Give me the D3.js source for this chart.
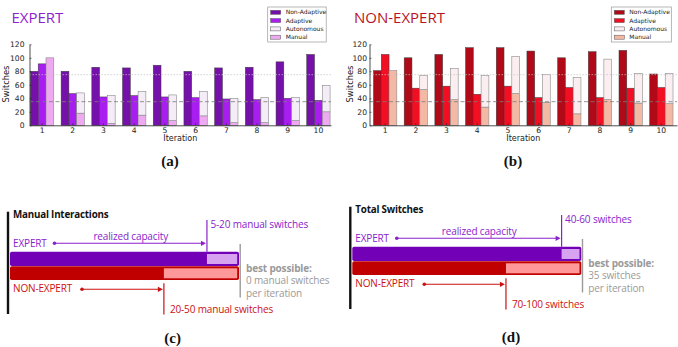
<!DOCTYPE html>
<html>
<head>
<meta charset="utf-8">
<script src="https://cdn.jsdelivr.net/npm/d3@7/dist/d3.min.js"></script>
<style>
  body { margin: 0; background: #fff; }
  svg { display: block; }
</style>
</head>
<body>
<svg id="fig" width="678" height="347"></svg>
<script>
// ---- data ----
const iterations = ['1', '2', '3', '4', '5', '6', '7', '8', '9', '10'];
const seriesNames = ['Non-Adaptive', 'Adaptive', 'Autonomous', 'Manual'];
const yTicks = [0, 20, 40, 60, 80, 100, 120];
const referenceLines = [75, 35];

const expertNonAdaptive = [80, 80, 86, 85, 89, 80, 85, 86, 94, 105];
const expertAdaptive    = [91, 47, 42, 44, 42, 41, 39, 38, 40, 37];
const expertManual      = [100, 18, 3, 15, 7, 14, 4, 4, 7, 20];
const expertAutonomous  = [0, 30, 41, 35, 38, 36, 36, 37, 34, 39];

const nonExpertNonAdaptive = [81, 100, 105, 115, 115, 110, 100, 109, 111, 76];
const nonExpertAdaptive    = [105, 55, 58, 46, 58, 41, 56, 41, 55, 56];
const nonExpertManual      = [81, 53, 38, 27, 47, 34, 17, 38, 33, 32];
const nonExpertAutonomous  = [0, 21, 46, 47, 55, 41, 54, 60, 44, 45];

// bottom diagrams: share of the bar that is realized capacity
const diagramTitles = ['Manual Interactions', 'Total Switches'];
const expertRealized = [0.86, 0.914];
const nonExpertRealized = [0.672, 0.671];
const expertRangeLabels = ['5-20 manual switches', '40-60 switches'];
const nonExpertRangeLabels = ['20-50 manual switches', '70-100 switches'];
const bestLabels = [
  ['best possible:', '0 manual switches', 'per iteration'],
  ['best possible:', '35 switches', 'per iteration'],
];
const panelLetters = ['(a)', '(b)', '(c)', '(d)'];

const svg = d3.select('#fig');
svg.append('rect').attr('width', 678).attr('height', 347).attr('fill', '#fff');

const tickFont = 'DejaVu Sans, sans-serif';
const titleFont = '"Open Sans", sans-serif';

function barPanel(o) {
  const g = svg.append('g');
  const x = d3.scaleBand().domain(iterations).range(o.range).paddingInner(0.24).paddingOuter(o.pad);
  const sub = d3.scaleBand().domain(['na', 'ad', 'st']).range([0, x.bandwidth()]);
  const y = d3.scaleLinear().domain([0, 120]).range([125.3, 44.3]);

  const rows = iterations.map((it, i) => ({
    it, na: o.na[i], ad: o.ad[i], man: o.man[i], aut: o.aut[i],
  }));

  g.selectAll('rect.na').data(rows).join('rect').attr('class', 'na')
    .attr('x', d => x(d.it) + sub('na')).attr('y', d => y(d.na))
    .attr('width', sub.bandwidth()).attr('height', d => y(0) - y(d.na))
    .attr('fill', o.colors[0]).attr('stroke', '#3a3a3a').attr('stroke-width', 0.5);

  g.selectAll('rect.ad').data(rows).join('rect').attr('class', 'ad')
    .attr('x', d => x(d.it) + sub('ad')).attr('y', d => y(d.ad))
    .attr('width', sub.bandwidth()).attr('height', d => y(0) - y(d.ad))
    .attr('fill', o.colors[1]).attr('stroke', '#3a3a3a').attr('stroke-width', 0.5);

  const stacked = d3.stack().keys(['man', 'aut'])(rows);
  g.selectAll('g.stack').data(stacked).join('g').attr('class', 'stack')
    .attr('fill', d => d.key === 'man' ? o.colors[3] : o.colors[2])
    .selectAll('rect').data(d => d.filter(s => s[1] > s[0])).join('rect')
    .attr('x', d => x(d.data.it) + sub('st')).attr('y', d => y(d[1]))
    .attr('width', sub.bandwidth()).attr('height', d => y(d[0]) - y(d[1]))
    .attr('stroke', '#8a8a8a').attr('stroke-width', 0.6);

  // reference lines
  g.selectAll('line.ref').data(referenceLines).join('line').attr('class', 'ref')
    .attr('x1', o.range[0]).attr('x2', o.range[1])
    .attr('y1', d => y(d)).attr('y2', d => y(d))
    .attr('stroke', (d, i) => i === 0 ? '#c4c4c4' : '#7a7a7a')
    .attr('stroke-opacity', (d, i) => i === 0 ? 0.9 : 0.8)
    .attr('stroke-width', (d, i) => i === 0 ? 0.8 : 1)
    .attr('stroke-dasharray', (d, i) => i === 0 ? '1.5,1.5' : '4,2.5');

  // axes
  const ya = g.append('g').attr('transform', `translate(${o.range[0]},0)`)
    .call(d3.axisLeft(y).tickValues(yTicks).tickSizeInner(-2).tickSizeOuter(0).tickPadding(o.tickPad));
  ya.select('.domain').attr('stroke', '#222').attr('stroke-width', 0.8);
  ya.selectAll('.tick line').attr('stroke', '#222').attr('stroke-width', 0.6);
  ya.selectAll('text').attr('font-family', tickFont).attr('font-size', 7.6).attr('fill', '#222');

  const xa = g.append('g').attr('transform', `translate(0,${y(0)})`)
    .call(d3.axisBottom(x).tickSizeInner(-2).tickSizeOuter(0).tickPadding(2));
  xa.select('.domain').attr('stroke', '#222').attr('stroke-width', 0.8);
  xa.selectAll('.tick line').attr('stroke', '#222').attr('stroke-width', 0.6);
  xa.selectAll('text').attr('font-family', tickFont).attr('font-size', 7.6).attr('fill', '#222');

  g.append('text').attr('x', (o.range[0] + o.range[1]) / 2).attr('y', 141.3)
    .attr('text-anchor', 'middle').attr('font-family', tickFont).attr('font-size', 8)
    .attr('fill', '#222').text('Iteration');
  g.append('text').attr('transform', `translate(${o.ylabelX},84) rotate(-90)`)
    .attr('text-anchor', 'middle').attr('font-family', tickFont).attr('font-size', 8.3)
    .attr('fill', '#222').text('Switches');

  // title
  g.append('text').attr('x', o.titleX).attr('y', 22.5)
    .attr('font-family', titleFont).attr('font-size', 15).attr('fill', o.titleColor).text(o.title);

  // legend
  const lg = g.append('g').attr('transform', `translate(${o.legendX},7)`);
  lg.append('rect').attr('width', o.legendW).attr('height', 35)
    .attr('fill', '#fff').attr('stroke', '#999').attr('stroke-width', 0.7);
  const items = lg.selectAll('g.item').data(seriesNames).join('g').attr('class', 'item')
    .attr('transform', (d, i) => `translate(3,${5.3 + i * 8.3})`);
  items.append('rect').attr('y', -2).attr('width', 10).attr('height', 4)
    .attr('fill', (d, i) => o.colors[i]).attr('stroke', '#555').attr('stroke-width', 0.5);
  items.append('text').attr('x', 15).attr('y', 2.1)
    .attr('font-family', tickFont).attr('font-size', 6).attr('fill', '#222').text(d => d);
}

barPanel({
  range: [29.5, 331], pad: 0.03, tickPad: 5, ylabelX: 9.3,
  na: expertNonAdaptive, ad: expertAdaptive, man: expertManual, aut: expertAutonomous,
  colors: ['#7610ab', '#a81df0', '#f4ecf7', '#eeaaf0'],
  title: 'EXPERT', titleColor: '#8e22d0', titleX: 11.5,
  legendX: 267.7, legendW: 58.5,
});

barPanel({
  range: [369.5, 677], pad: 0.13, tickPad: 2.5, ylabelX: 352.5,
  na: nonExpertNonAdaptive, ad: nonExpertAdaptive, man: nonExpertManual, aut: nonExpertAutonomous,
  colors: ['#b00a18', '#f20f24', '#fbeef0', '#f4b9a4'],
  title: 'NON-EXPERT', titleColor: '#b8141f', titleX: 354,
  legendX: 611.3, legendW: 60,
});

// ---- bottom schematic panels ----
const purple = '#7200b6', lightPurple = '#d7a2f0', purpleText = '#8a22cc';
const red = '#c00000', lightRed = '#ff9898', redText = '#cc1111';
const grey = '#9a9a9a';

function arrowTo(g, x1, x2, yy, color) {
  g.append('line').attr('x1', x1).attr('x2', x2 - 4).attr('y1', yy).attr('y2', yy)
    .attr('stroke', color).attr('stroke-width', 1.1);
  g.append('circle').attr('cx', x1).attr('cy', yy).attr('r', 1.8).attr('fill', color);
  g.append('path').attr('d', `M${x2},${yy} L${x2 - 5},${yy - 2.6} L${x2 - 5},${yy + 2.6} Z`).attr('fill', color);
}

function diagram(i, L, dy) {
  const g = svg.append('g').attr('transform', `translate(0,${dy})`);
  const x = d3.scaleLinear().domain([0, 1]).range([L + 2, L + 231]);
  const fs = 10;

  g.append('line').attr('x1', L).attr('x2', L).attr('y1', 206.7).attr('y2', 309)
    .attr('stroke', '#111').attr('stroke-width', 2.4);
  g.append('text').attr('x', L + 5).attr('y', 213.3).attr('font-family', titleFont)
    .attr('font-weight', 700).attr('font-size', 9.8).attr('fill', '#111')
    .attr('letter-spacing', -0.2).text(diagramTitles[i]);

  // bars
  const ex = x(expertRealized[i]), nx = x(nonExpertRealized[i]);
  g.append('rect').attr('x', x(0)).attr('y', 246.7).attr('width', x(1) - x(0)).attr('height', 14.3)
    .attr('rx', 1.8).attr('fill', purple);
  g.append('rect').attr('x', ex).attr('y', 249).attr('width', x(1) - 1.8 - ex).attr('height', 10)
    .attr('fill', lightPurple);
  g.append('rect').attr('x', x(0)).attr('y', 261.3).attr('width', x(1) - x(0)).attr('height', 13.8)
    .attr('rx', 1.8).attr('fill', red);
  g.append('rect').attr('x', nx).attr('y', 263.3).attr('width', x(1) - 1.8 - nx).attr('height', 10)
    .attr('fill', lightRed);

  // best possible
  g.append('line').attr('x1', x(1) + 1.2).attr('x2', x(1) + 1.2).attr('y1', 239).attr('y2', 292.5)
    .attr('stroke', grey).attr('stroke-width', 1.4);
  g.selectAll('text.best').data(bestLabels[i]).join('text').attr('class', 'best')
    .attr('x', x(1) + 7).attr('y', (d, k) => 266.7 + k * 12.6)
    .attr('font-family', titleFont).attr('font-size', fs)
    .attr('font-weight', (d, k) => k === 0 ? 700 : 400)
    .attr('fill', grey).attr('letter-spacing', -0.15).text(d => d);

  // expert annotation
  g.append('line').attr('x1', ex).attr('x2', ex).attr('y1', 215).attr('y2', 246.7)
    .attr('stroke', purpleText).attr('stroke-width', 1.2);
  g.append('text').attr('x', ex + 3.5).attr('y', 222.7).attr('font-family', titleFont)
    .attr('font-size', fs).attr('fill', purpleText).attr('letter-spacing', -0.15).text(expertRangeLabels[i]);
  g.append('text').attr('x', L + 5).attr('y', 241.7).attr('font-family', titleFont)
    .attr('font-size', fs).attr('fill', purpleText).attr('letter-spacing', -0.15).text('EXPERT');
  arrowTo(g, L + 46.5, ex - 1, 238.3, purpleText);
  g.append('text').attr('x', (L + 46.5 + ex) / 2).attr('y', 235).attr('text-anchor', 'middle')
    .attr('font-family', titleFont).attr('font-size', fs).attr('fill', purpleText)
    .attr('letter-spacing', -0.15).text('realized capacity');

  // non-expert annotation
  g.append('line').attr('x1', nx).attr('x2', nx).attr('y1', 278.3).attr('y2', 309.5)
    .attr('stroke', redText).attr('stroke-width', 1.2);
  g.append('text').attr('x', nx + 6).attr('y', 308.3).attr('font-family', titleFont)
    .attr('font-size', fs).attr('fill', redText).attr('letter-spacing', -0.15).text(nonExpertRangeLabels[i]);
  g.append('text').attr('x', L + 5).attr('y', 287.3).attr('font-family', titleFont)
    .attr('font-size', fs).attr('fill', redText).attr('letter-spacing', -0.15).text('NON-EXPERT');
  arrowTo(g, L + 74, nx - 1, 284.3, redText);
}

diagram(0, 8, 5);
diagram(1, 350.3, 0);

// panel letters
const letterPos = [[170, 165.7], [513, 165.7], [172.7, 343], [511, 341.7]];
svg.selectAll('text.letter').data(panelLetters).join('text').attr('class', 'letter')
  .attr('x', (d, i) => letterPos[i][0]).attr('y', (d, i) => letterPos[i][1])
  .attr('text-anchor', 'middle').attr('font-family', '"Liberation Serif", serif')
  .attr('font-weight', 700).attr('font-size', 15).attr('fill', '#111').text(d => d);
</script>
</body>
</html>
